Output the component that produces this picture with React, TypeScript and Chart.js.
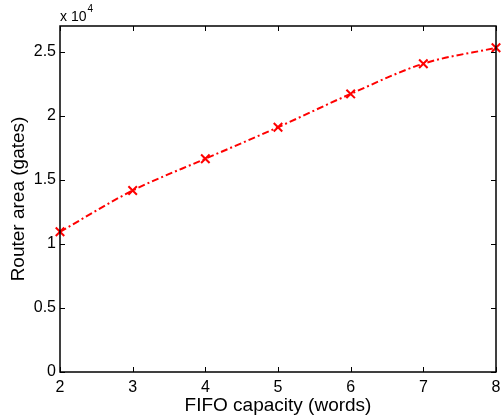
import React, { useEffect, useRef } from "react";
import { Chart, registerables } from "chart.js";

Chart.register(...registerables);

const fifoCapacity = [2, 3, 4, 5, 6, 7, 8];
const routerArea = [10940, 14160, 16640, 19100, 21700, 24060, 25300];
const yTicks = [0, 5000, 10000, 15000, 20000, 25000];
const xTicks = [2, 3, 4, 5, 6, 7, 8];

const FONT = "'Liberation Sans', Arial, Helvetica, sans-serif";

const boxPlugin = {
  id: "matlabBox",
  afterDraw(chart: any) {
    const { ctx, chartArea } = chart;
    const { left, right, top, bottom } = chartArea;
    const xs = chart.scales.x;
    const ys = chart.scales.y;
    ctx.save();
    ctx.strokeStyle = "#000";
    ctx.lineWidth = 1.5;
    ctx.strokeRect(left, top, right - left, bottom - top);
    ctx.lineWidth = 1;
    const tl = 5;
    ctx.beginPath();
    for (const v of xTicks) {
      const px = Math.round(xs.getPixelForValue(v)) + 0.5;
      ctx.moveTo(px, bottom);
      ctx.lineTo(px, bottom - tl);
      ctx.moveTo(px, top);
      ctx.lineTo(px, top + tl);
    }
    for (const v of yTicks) {
      const py = Math.round(ys.getPixelForValue(v)) + 0.5;
      ctx.moveTo(left, py);
      ctx.lineTo(left + tl, py);
      ctx.moveTo(right, py);
      ctx.lineTo(right - tl, py);
    }
    ctx.stroke();
    ctx.fillStyle = "#000";
    ctx.textBaseline = "alphabetic";
    ctx.textAlign = "left";
    ctx.font = `14px ${FONT}`;
    const base = "x 10";
    ctx.fillText(base, left, top - 5);
    const w = ctx.measureText(base).width;
    ctx.font = `10px ${FONT}`;
    ctx.fillText("4", left + w + 1, top - 14);
    ctx.restore();
  },
};

export default function App() {
  const ref = useRef<HTMLCanvasElement | null>(null);
  useEffect(() => {
    document.body.style.margin = "0";
    const chart = new Chart(ref.current as HTMLCanvasElement, {
      type: "line",
      data: {
        datasets: [
          {
            data: fifoCapacity.map((x, i) => ({ x, y: routerArea[i] })),
            borderColor: "#ff0000",
            backgroundColor: "#ff0000",
            borderWidth: 2,
            borderDash: [7, 3, 2, 3],
            pointStyle: "crossRot",
            pointRadius: 6,
            pointBorderWidth: 2,
            pointBorderColor: "#ff0000",
            cubicInterpolationMode: "monotone",
            fill: false,
            clip: false,
          },
        ],
      },
      options: {
        animation: false,
        responsive: false,
        maintainAspectRatio: false,
        layout: { padding: { top: 26, right: 5, left: 0, bottom: 0 } },
        plugins: { legend: { display: false }, tooltip: { enabled: false } },
        scales: {
          x: {
            type: "linear",
            min: 2,
            max: 8,
            grid: { display: false, drawTicks: false },
            border: { display: false },
            afterBuildTicks: (s: any) => {
              s.ticks = xTicks.map((v) => ({ value: v }));
            },
            afterFit: (s: any) => {
              s.height = 47;
              s.paddingLeft = 0;
              s.paddingRight = 0;
            },
            ticks: {
              color: "#000",
              font: { family: FONT, size: 16 },
              padding: 6,
              maxRotation: 0,
              autoSkip: false,
            },
            title: {
              display: true,
              text: "FIFO capacity (words)",
              color: "#000",
              font: { family: FONT, size: 19 },
              padding: { top: 0, bottom: 2 },
            },
          },
          y: {
            type: "linear",
            min: 0,
            max: 27000,
            grid: { display: false, drawTicks: false },
            border: { display: false },
            afterBuildTicks: (s: any) => {
              s.ticks = yTicks.map((v) => ({ value: v }));
            },
            afterFit: (s: any) => {
              s.width = 60;
              s.paddingTop = 0;
              s.paddingBottom = 0;
            },
            ticks: {
              color: "#000",
              font: { family: FONT, size: 16 },
              padding: 4,
              autoSkip: false,
              callback: (v: any) => String(Number(v) / 10000),
            },
            title: {
              display: true,
              text: "Router area (gates)",
              color: "#000",
              font: { family: FONT, size: 19 },
              padding: { top: 7, bottom: 0 },
            },
          },
        },
      },
      plugins: [boxPlugin],
    } as any);
    return () => chart.destroy();
  }, []);
  return (
    <div style={{ position: "absolute", left: 0, top: 0, width: 504, height: 419, background: "#fff" }}>
      <canvas ref={ref} width={504} height={419} style={{ width: 504, height: 419 }} />
    </div>
  );
}
